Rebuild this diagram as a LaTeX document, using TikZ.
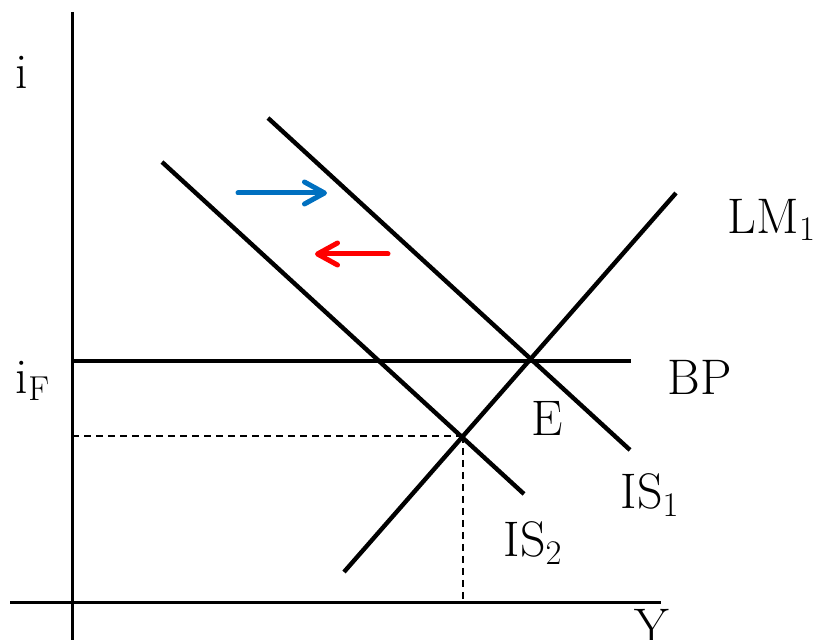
\documentclass[tikz,border=0pt]{standalone}
\usepackage{tikz}
\usetikzlibrary{arrows.meta,positioning,calc}

\definecolor{shiftblue}{RGB}{0,112,192}
\tikzset{
    curve/.style={line width=2.2pt},
    axis/.style={line width=1.5pt},
    guide/.style={line width=1.2pt, dash pattern=on 3.5pt off 2.5pt},
    shiftarrow/.style={line width=2.5pt, line cap=round, -{Straight Barb[length=10pt,width=11pt,round]}},
    lbl/.style={font=\fontsize{25}{30}\selectfont, inner sep=0pt}
}

\begin{document}
\begin{tikzpicture}[x=0.5pt, y=-0.5pt]
    \useasboundingbox (0,0) rectangle (821,640);

    % axes
    \coordinate (itop) at (72,12);
    \coordinate (ibot) at (72,640);
    \coordinate (yleft) at (10,603);
    \coordinate (yright) at (661,603);
    \draw[axis] (itop) -- (ibot);
    \draw[axis] (yleft) -- (yright);
    \node[lbl] (ilab) at (22,72) {i};
    \node[lbl] (ylab) at (652,626) {Y};

    % BP line at i_F
    \coordinate (bpl) at (72,361);
    \coordinate (bpr) at (631,361);
    \draw[line width=2.4pt] (bpl) -- (bpr);
    \node[lbl] (iflab) at (33,381) {i$_{\mathrm{F}}$};
    \node[lbl] (bplab) at (700,377) {BP};

    % IS curves
    \coordinate (is1a) at (268,118);
    \coordinate (is1b) at (630,450);
    \coordinate (is2a) at (162,162);
    \coordinate (is2b) at (524,494);
    \draw[curve] (is1a) -- (is1b);
    \draw[curve] (is2a) -- (is2b);
    \node[lbl] (is1lab) at (650,495) {IS$_1$};
    \node[lbl] (is2lab) at (533,543) {IS$_2$};

    % LM curve
    \coordinate (lma) at (344,572);
    \coordinate (lmb) at (676,193);
    \draw[curve] (lma) -- (lmb);
    \node[lbl] (lmlab) at (772,220) {LM$_1$};

    % equilibria
    \node[lbl] (elab) at (547,418) {E};
    \coordinate (e2) at (463,436);
    \coordinate (e2i) at (72,436);
    \coordinate (e2y) at (463,603);
    \draw[guide] (e2i) -- (e2);
    \draw[guide] (e2) -- (e2y);

    % shifts of IS
    \coordinate (bluea) at (238,193);
    \coordinate (blueb) at (327,193);
    \coordinate (reda) at (388,254);
    \coordinate (redb) at (315,254);
    \draw[shiftarrow, shiftblue] (bluea) -- (blueb);
    \draw[shiftarrow, red] (reda) -- (redb);
\end{tikzpicture}
\end{document}
